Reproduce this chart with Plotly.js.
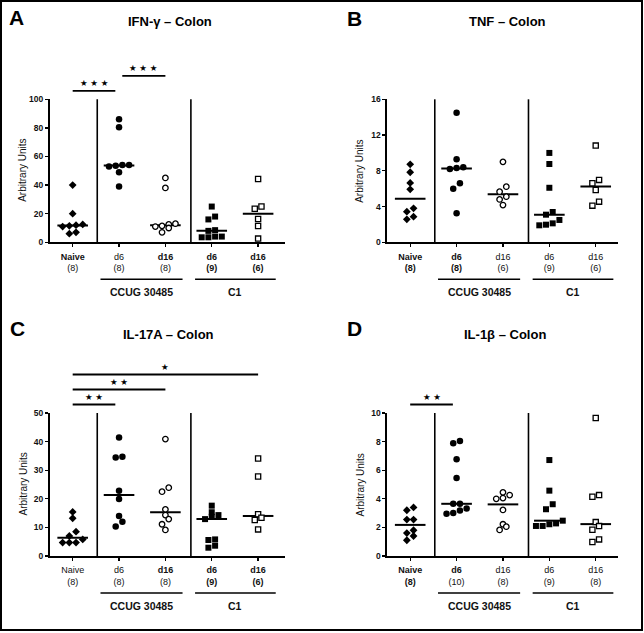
<!DOCTYPE html>
<html><head><meta charset="utf-8">
<script src="https://cdn.plot.ly/plotly-3.0.1.min.js"></script>
<style>html,body{margin:0;padding:0;background:#fff}#chart{width:644px;height:633px}</style>
</head><body><div id="chart"></div>
<script>
// ---------------- DATA ----------------
const categories = ["Naive", "d6", "d16", "d6", "d16"];
const groupLabels = ["CCUG 30485", "C1"];
const panelLetters = ["A", "B", "C", "D"];
const panelTitles = ["IFN-γ – Colon", "TNF – Colon", "IL-17A – Colon", "IL-1β – Colon"];
const yAxisTitle = "Arbitrary Units";

const countsA = [8, 8, 8, 9, 6];
const countsB = [8, 8, 6, 9, 6];
const countsC = [8, 8, 8, 9, 6];
const countsD = [8, 10, 8, 9, 8];

// IFN-γ (A)
const ifnNaive   = [40, 20, 12.5, 12, 11.5, 11, 7, 6];
const ifnCcugD6  = [86, 80.5, 54, 54, 53.5, 53, 49, 39];
const ifnCcugD16 = [45, 38, 13, 12.5, 11.5, 11, 10, 7];
const ifnC1D6    = [25, 18, 16, 8.5, 8, 4, 4, 3.5, 3.5];
const ifnC1D16   = [44.3, 25, 23.5, 16.3, 11.4, 2.6];

// TNF (B)
const tnfNaive   = [8.73, 7.84, 6.64, 5.93, 3.8, 3.43, 2.87, 2.57];
const tnfCcugD6  = [14.5, 9.3, 8.4, 8.3, 8.2, 6.6, 6.0, 3.25];
const tnfCcugD16 = [9.0, 6.22, 5.66, 5.1, 4.8, 4.17];
const tnfC1D6    = [10.0, 8.76, 6.1, 3.39, 3.09, 2.5, 2.12, 1.97, 1.9];
const tnfC1D16   = [10.82, 6.98, 6.6, 5.86, 4.55, 4.1];

// IL-17A (C)
const il17Naive   = [15.4, 13.2, 8.5, 7.0, 5.8, 4.7, 4.7, 4.7];
const il17CcugD6  = [41.4, 34.7, 34.4, 22.8, 19.9, 14.0, 12.0, 10.3];
const il17CcugD16 = [40.9, 23.9, 22.5, 16.3, 14.3, 12.9, 11.1, 9.1];
const il17C1D6    = [17.6, 15.3, 14.3, 13.7, 12.9, 5.8, 5.6, 3.6, 2.9];
const il17C1D16   = [34.1, 27.8, 14.6, 13.4, 12.6, 9.3];

// IL-1β (D)
const il1bNaive   = [3.4, 3.2, 2.55, 2.55, 1.8, 1.6, 1.4, 1.1];
const il1bCcugD6  = [8.04, 7.88, 6.76, 5.46, 3.65, 3.65, 3.33, 3.19, 3.0, 2.95];
const il1bCcugD16 = [4.45, 4.26, 4.05, 4.0, 3.22, 2.22, 2.05, 1.82];
const il1bC1D6    = [6.71, 4.57, 3.62, 3.27, 2.47, 2.28, 2.22, 2.1, 2.1];
const il1bC1D16   = [9.65, 4.26, 4.14, 2.37, 2.09, 1.84, 1.16, 0.98];

// significance comparisons: [from category, to category, label]
const sigA = [[0, 1, "★ ★ ★"], [1, 2, "★ ★ ★"]];
const sigB = [];
const sigC = [[0, 1, "★ ★"], [0, 2, "★ ★"], [0, 4, "★"]];
const sigD = [[0, 1, "★ ★"]];

const yMaxes = [100, 16, 50, 10];
const yDticks = [20, 4, 10, 2];

// ---------------- STYLE / GEOMETRY ----------------
const W = 644, H = 633;
const FONT = "Liberation Sans, Arial, Helvetica, sans-serif";
// which tick-label lines are bold (name, count) per panel
const boldA = [[1,0],[0,0],[1,0],[1,1],[1,1]];
const boldB = [[1,1],[1,1],[0,0],[0,0],[0,0]];
const boldC = [[0,0],[0,0],[1,0],[1,1],[1,1]];
const boldD = [[1,1],[1,0],[0,0],[0,0],[0,0]];

const geom = [
  {x0: 49.5, x1: 285, top: 99.3, bottom: 242.3, xr: [-0.5, 4.58], letter: [16.5, 17.5], titleX: 170, titleY: 21, ytX: 23},
  {x0: 387,  x1: 618, top: 99.3, bottom: 242.3, xr: [-0.5, 4.48], letter: [354.5, 18.5], titleX: 507, titleY: 21, ytX: 360},
  {x0: 49.5, x1: 285, top: 413,  bottom: 556,   xr: [-0.5, 4.58], letter: [17.5, 328.5], titleX: 168, titleY: 334.5, ytX: 23},
  {x0: 387,  x1: 618, top: 413,  bottom: 556,   xr: [-0.5, 4.48], letter: [354.5, 328.5], titleX: 505, titleY: 334.5, ytX: 360}
];
const markerStyles = [
  {symbol: "diamond", size: 6, color: "#000", line: {width: 0}},
  {symbol: "circle", size: 6.5, color: "#000", line: {width: 0}},
  {symbol: "circle", size: 5.5, color: "#fff", line: {width: 1.3, color: "#000"}},
  {symbol: "square", size: 6, color: "#000", line: {width: 0}},
  {symbol: "square", size: 5.2, color: "#fff", line: {width: 1.3, color: "#000"}}
];

const panels = [
  {series: [ifnNaive, ifnCcugD6, ifnCcugD16, ifnC1D6, ifnC1D16], counts: countsA, bold: boldA, sig: sigA},
  {series: [tnfNaive, tnfCcugD6, tnfCcugD16, tnfC1D6, tnfC1D16], counts: countsB, bold: boldB, sig: sigB},
  {series: [il17Naive, il17CcugD6, il17CcugD16, il17C1D6, il17C1D16], counts: countsC, bold: boldC, sig: sigC},
  {series: [il1bNaive, il1bCcugD6, il1bCcugD16, il1bC1D6, il1bC1D16], counts: countsD, bold: boldD, sig: sigD}
];

const px = v => v / W;
const py = v => 1 - v / H;

function median(a) {
  const s = a.slice().sort((p, q) => p - q);
  const n = s.length;
  return n % 2 ? s[(n - 1) / 2] : (s[n / 2 - 1] + s[n / 2]) / 2;
}
// deterministic beeswarm: cluster points that are close vertically, spread them symmetrically
function swarm(vals, yMax, plotH, pxPerCat) {
  const pitch = 6.7, thresh = 5.6;
  const idx = vals.map((v, i) => i).sort((a, b) => vals[a] - vals[b]);
  const ypx = v => v / yMax * plotH;
  const off = new Array(vals.length).fill(0);
  let cl = [];
  const flush = () => {
    const n = cl.length;
    cl.forEach((k, j) => { off[k] = (j - (n - 1) / 2) * pitch / pxPerCat; });
    cl = [];
  };
  idx.forEach(k => {
    if (cl.length && ypx(vals[k]) - ypx(vals[cl[0]]) >= thresh) flush();
    cl.push(k);
  });
  flush();
  return off;
}

const traces = [];
const shapes = [];
const annotations = [];
const layout = {
  width: W, height: H, margin: {l: 0, r: 0, t: 0, b: 0},
  paper_bgcolor: "#fff", plot_bgcolor: "#fff", showlegend: false,
  font: {family: FONT, color: "#111"}
};

panels.forEach((p, pi) => {
  const g = geom[pi];
  const n = pi + 1;
  const xa = "x" + (n === 1 ? "" : n), ya = "y" + (n === 1 ? "" : n);
  const xKey = "xaxis" + (n === 1 ? "" : n), yKey = "yaxis" + (n === 1 ? "" : n);
  const plotH = g.bottom - g.top;
  const pxPerCat = (g.x1 - g.x0) / (g.xr[1] - g.xr[0]);

  layout[xKey] = {
    domain: [px(g.x0), px(g.x1)], range: g.xr, anchor: ya,
    showline: true, linecolor: "#000", linewidth: 1.6, mirror: false,
    showgrid: false, zeroline: false, fixedrange: true,
    ticks: "outside", ticklen: 3, tickwidth: 1.3, tickcolor: "#000",
    tickvals: categories.map((c, i) => i),
    ticktext: categories.map((c, i) => {
      const b = p.bold[i];
      const a = b[0] ? "<b>" + c + "</b>" : c;
      const cnt = "(" + p.counts[i] + ")";
      return a + "<br>" + (b[1] ? "<b>" + cnt + "</b>" : cnt);
    }),
    tickfont: {size: 9, family: FONT, color: "#111"},
    ticklabelstandoff: 2
  };
  layout[yKey] = {
    domain: [py(g.bottom), py(g.top)], range: [0, yMaxes[pi]], anchor: xa,
    showline: true, linecolor: "#000", linewidth: 1.6,
    showgrid: false, zeroline: false, fixedrange: true,
    ticks: "outside", ticklen: 3, tickwidth: 1.3, tickcolor: "#000",
    dtick: yDticks[pi], tick0: 0,
    tickfont: {size: 8.5, family: FONT, color: "#111", weight: "bold"}
  };

  // medians (drawn first so markers sit on top)
  p.series.forEach((vals, gi) => {
    const m = median(vals);
    traces.push({
      type: "scatter", mode: "lines", xaxis: xa, yaxis: ya,
      x: [gi - 0.33, gi + 0.33], y: [m, m],
      line: {color: "#000", width: 2}, hoverinfo: "skip", cliponaxis: false
    });
  });
  // points
  p.series.forEach((vals, gi) => {
    const off = swarm(vals, yMaxes[pi], plotH, pxPerCat);
    traces.push({
      type: "scatter", mode: "markers", xaxis: xa, yaxis: ya,
      x: vals.map((v, i) => gi + off[i]), y: vals,
      marker: markerStyles[gi], cliponaxis: false
    });
  });

  // group separators
  [0.53, 2.55].forEach(sx => shapes.push({
    type: "line", xref: xa, yref: ya + " domain", x0: sx, x1: sx, y0: 0, y1: 1,
    line: {color: "#000", width: 1.6}
  }));
  // group lines and labels
  [[0.6, 2.37], [2.64, 4.38]].forEach((r, k) => {
    shapes.push({type: "line", xref: xa, yref: "paper", x0: r[0], x1: r[1],
      y0: py(g.bottom + 37), y1: py(g.bottom + 37), line: {color: "#000", width: 1.5}});
    annotations.push({xref: xa, yref: "paper", x: (r[0] + r[1]) / 2, y: py(g.bottom + 49.5),
      text: "<b>" + groupLabels[k] + "</b>", showarrow: false, xanchor: "center", yanchor: "middle",
      font: {size: 10.5, family: FONT, color: "#111"}});
  });
  // significance bars
  p.sig.forEach((s, k) => {
    const yb = g.top - 8.5 - 15 * k;
    const x0 = s[0] + (s[0] > 0 ? 0.07 : 0);
    const x1 = s[1] === 1 ? s[1] - 0.08 : s[1];
    shapes.push({type: "line", xref: xa, yref: "paper", x0: x0, x1: x1,
      y0: py(yb), y1: py(yb), line: {color: "#000", width: 1.8}});
    annotations.push({xref: xa, yref: "paper", x: (x0 + x1) / 2, y: py(yb - 7.5),
      text: s[2], showarrow: false, xanchor: "center", yanchor: "middle",
      font: {size: 8.5, family: "DejaVu Sans", color: "#000"}});
  });
  // panel letter, title, y title
  annotations.push({xref: "paper", yref: "paper", x: px(g.letter[0]), y: py(g.letter[1]),
    text: "<b>" + panelLetters[pi] + "</b>", showarrow: false, xanchor: "center", yanchor: "middle",
    font: {size: 21, family: FONT, color: "#000"}});
  annotations.push({xref: "paper", yref: "paper", x: px(g.titleX), y: py(g.titleY),
    text: "<b>" + panelTitles[pi] + "</b>", showarrow: false, xanchor: "center", yanchor: "middle",
    font: {size: 13, family: FONT, color: "#000"}});
  annotations.push({xref: "paper", yref: "paper", x: px(g.ytX), y: py((g.top + g.bottom) / 2),
    text: yAxisTitle, textangle: -90, showarrow: false, xanchor: "center", yanchor: "middle",
    font: {size: 10, family: FONT, color: "#111"}});
});

// outer frame
shapes.push({type: "rect", xref: "paper", yref: "paper", x0: px(1), x1: px(642), y0: py(630), y1: py(1),
  line: {color: "#000", width: 2}, fillcolor: "rgba(0,0,0,0)"});

layout.shapes = shapes;
layout.annotations = annotations;
Plotly.newPlot("chart", traces, layout, {staticPlot: true, displayModeBar: false});
</script>
</body></html>
